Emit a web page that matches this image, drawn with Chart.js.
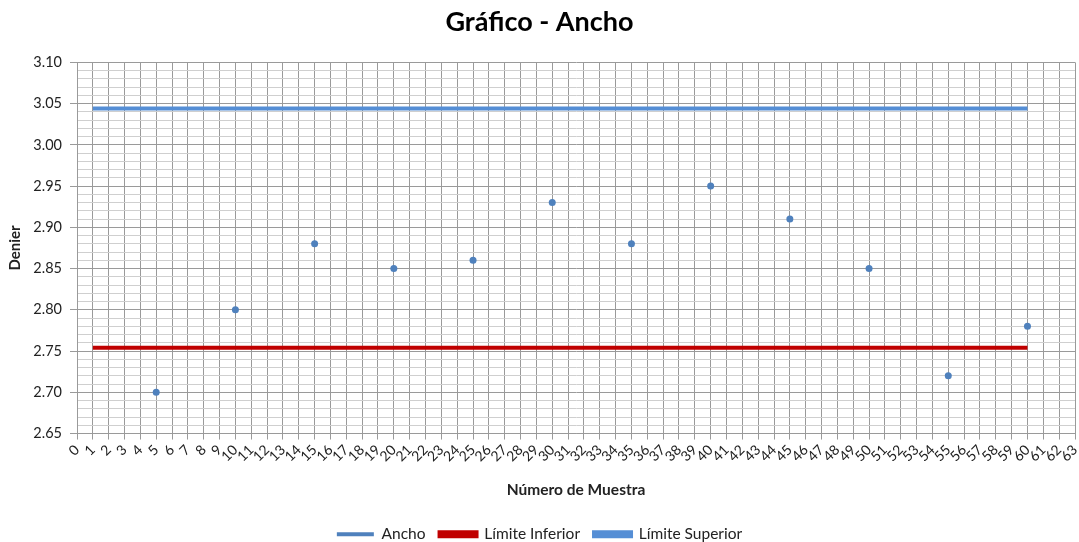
<!DOCTYPE html>
<html>
<head>
<meta charset="utf-8">
<script src="https://cdn.jsdelivr.net/npm/chart.js@4/dist/chart.umd.min.js"></script>
<style>
  html, body { margin: 0; padding: 0; background: #fff; }
  #wrap { width: 1079px; height: 542px; }
</style>
</head>
<body>
<div id="wrap"><canvas id="grafico"></canvas></div>
<script>
// datos del gráfico
const muestra = [5, 10, 15, 20, 25, 30, 35, 40, 45, 50, 55, 60];
const ancho = [2.70, 2.80, 2.88, 2.85, 2.86, 2.93, 2.88, 2.95, 2.91, 2.85, 2.72, 2.78];
const limiteX = [1, 60];
const limiteInferior = [2.754, 2.754];
const limiteSuperior = [3.044, 3.044];

const fuente = "Lato, 'Liberation Sans', sans-serif";
Chart.defaults.font.family = fuente;
Chart.defaults.color = '#333';

function pares(xs, ys) {
  return xs.map((x, i) => ({ x: x, y: ys[i] }));
}

// centésimas, para decidir líneas mayores (cada 0.05)
function esMayor(v) {
  return Math.round(v * 100) % 5 === 0;
}

const data = {
  datasets: [
    {
      label: 'Ancho',
      data: pares(muestra, ancho),
      showLine: false,
      borderColor: '#4F81BD',
      backgroundColor: '#4F81BD',
      pointRadius: 3.5,
      pointBorderWidth: 0,
      borderWidth: 4
    },
    {
      label: 'Límite Inferior',
      data: pares(limiteX, limiteInferior),
      showLine: true,
      borderColor: '#C00000',
      backgroundColor: '#C00000',
      borderWidth: 4,
      pointRadius: 0
    },
    {
      label: 'Límite Superior',
      data: pares(limiteX, limiteSuperior),
      showLine: true,
      borderColor: '#558ED5',
      backgroundColor: '#558ED5',
      borderWidth: 4,
      pointRadius: 0
    }
  ]
};

const config = {
  type: 'scatter',
  data: data,
  options: {
    responsive: true,
    maintainAspectRatio: false,
    animation: false,
    layout: { padding: { left: 0, right: 0, top: 0, bottom: -10 } },
    plugins: {
      title: {
        display: true,
        text: 'Gráfico - Ancho',
        color: '#000',
        font: { size: 27, weight: 'bold' },
        padding: { top: 6, bottom: 24 }
      },
      legend: {
        position: 'bottom',
        labels: {
          boxWidth: 37,
          boxHeight: 4,
          padding: 14,
          color: '#222',
          font: { size: 15.5 }
        }
      },
      tooltip: { enabled: false }
    },
    scales: {
      x: {
        type: 'linear',
        min: 0,
        max: 63,
        afterFit: function (scale) { scale.paddingRight = 4; },
        ticks: {
          stepSize: 1,
          autoSkip: false,
          maxRotation: 45,
          minRotation: 45,
          color: '#222',
          font: { size: 14 },
          padding: 2
        },
        grid: { color: '#9a9a9a', tickLength: 6, tickColor: '#9a9a9a' },
        border: { color: '#9a9a9a' },
        title: {
          display: true,
          text: 'Número de Muestra',
          color: '#222',
          font: { size: 15.5, weight: 'bold' },
          padding: { top: 14, bottom: 13 }
        }
      },
      y: {
        min: 2.65,
        max: 3.10,
        afterFit: function (scale) { scale.width = 77; },
        ticks: {
          stepSize: 0.01,
          autoSkip: false,
          color: '#222',
          font: { size: 14.5 },
          padding: 8,
          callback: function (v) { return esMayor(v) ? v.toFixed(2) : ''; }
        },
        grid: {
          color: function (ctx) { return esMayor(ctx.tick.value) ? '#9a9a9a' : '#cfcfcf'; },
          tickLength: 7,
          tickColor: function (ctx) { return esMayor(ctx.tick.value) ? '#9a9a9a' : 'rgba(0,0,0,0)'; }
        },
        border: { color: '#9a9a9a' },
        title: {
          display: true,
          text: 'Denier',
          color: '#222',
          font: { size: 15, weight: 'bold' },
          padding: { top: 6, bottom: 0 }
        }
      }
    }
  }
};

new Chart(document.getElementById('grafico'), config);
</script>
</body>
</html>
